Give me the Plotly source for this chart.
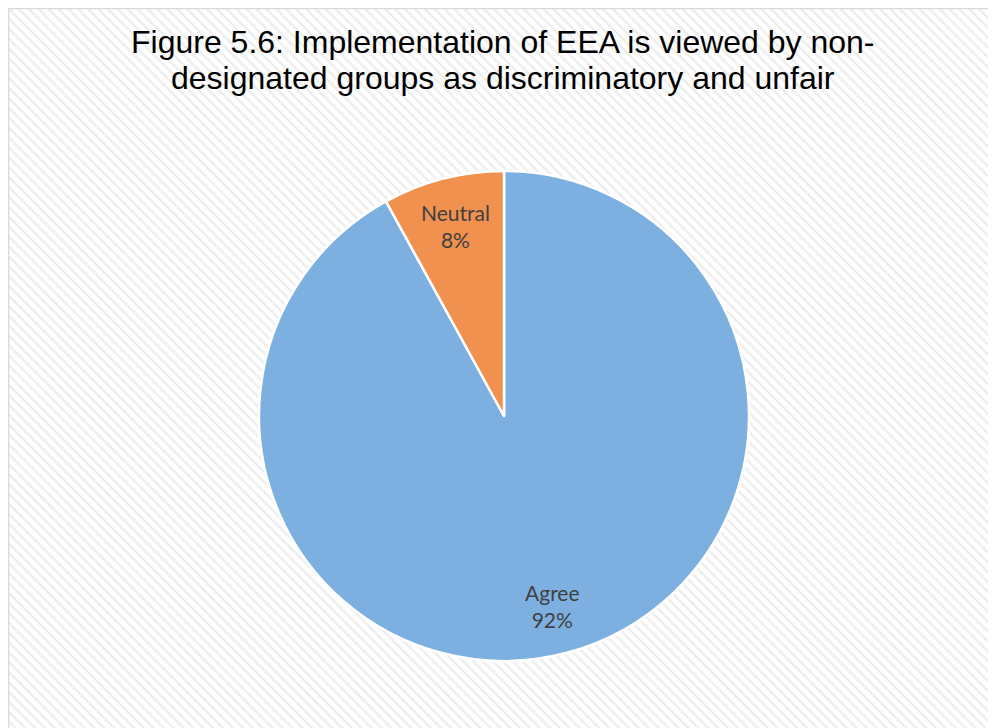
import numpy as np
import plotly.graph_objects as go

title_lines = ["Figure 5.6: Implementation of EEA is viewed by non-",
               "designated groups as discriminatory and unfair"]
labels = ["Agree", "Neutral"]
values = [92, 8]
colors = ["#7DB0E0", "#F0914F"]

W, H = 996, 728
off = 8  # page body margin
cx, cy, r = 504 - off, 416 - off, 245  # pie centre / radius in figure px

fig = go.Figure()

# hatched chart-area background
fig.add_trace(go.Scatter(
    x=[0, 1, 1, 0, 0], y=[0, 0, 1, 1, 0],
    mode="none", fill="toself",
    fillcolor="white",
    fillpattern=dict(shape="\\", fgcolor="#dcdcdc", bgcolor="white",
                     size=7, solidity=0.35),
    hoverinfo="skip", showlegend=False
))

fig.add_trace(go.Pie(
    labels=labels, values=values,
    sort=False, direction="clockwise", rotation=0,
    marker=dict(colors=colors, line=dict(color="white", width=2.5)),
    textinfo="none", hoverinfo="label+percent",
    domain=dict(x=[(cx - r) / W, (cx + r) / W],
                y=[(H - cy - r) / H, (H - cy + r) / H]),
    showlegend=False
))

# data labels at 0.8 r along each slice bisector
total = sum(values)
start = 0.0
for lab, v in zip(labels, values):
    mid = start + v / total * 180.0
    ang = np.deg2rad(mid)
    px = cx + 0.8 * r * np.sin(ang)
    py = cy - 0.8 * r * np.cos(ang)
    fig.add_annotation(
        x=px / W, y=1 - py / H, xref="paper", yref="paper",
        xanchor="center", yanchor="middle",
        text=f"{lab}<br>{round(v / total * 100)}%",
        showarrow=False, align="center",
        font=dict(family="Lato, Open Sans, sans-serif", size=21, color="#404040")
    )
    start += v / total * 360.0

for i, line in enumerate(title_lines):
    fig.add_annotation(
        x=(503 - off) / W, y=1 - (42 + 36 * i - off) / H,
        xref="paper", yref="paper",
        text=line, showarrow=False,
        xanchor="center", yanchor="middle",
        font=dict(family="Liberation Sans, Arial, sans-serif", size=32, color="black")
    )

# chart border
fig.add_shape(type="rect", xref="paper", yref="paper",
              x0=0.5 / W, x1=1.02, y0=-0.02, y1=1 - 0.5 / H,
              line=dict(color="#d9d9d9", width=1.5))

fig.update_layout(
    width=W, height=H,
    margin=dict(l=0, r=0, t=0, b=0),
    paper_bgcolor="white", plot_bgcolor="white",
    xaxis=dict(visible=False, range=[0, 1], fixedrange=True),
    yaxis=dict(visible=False, range=[0, 1], fixedrange=True),
)

fig.write_html("out.html")
